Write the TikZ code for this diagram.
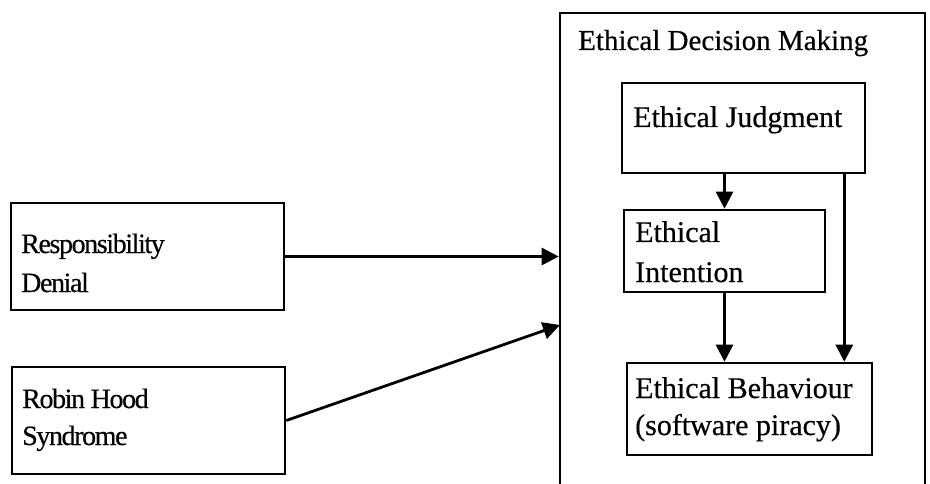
\documentclass[tikz,border=0pt]{standalone}
\usepackage{fontspec}
\setmainfont{Liberation Serif}[FakeBold=0.4]
\newfontfamily\tightfont{Liberation Serif}[LetterSpace=-5.0,FakeBold=0.4]
\usetikzlibrary{arrows.meta,calc}
\begin{document}
\begin{tikzpicture}[x=1pt,y=-1pt,
  box/.style={draw,line width=2.6pt,rectangle,inner sep=0pt},
  lbl/.style={anchor=base west,inner sep=0pt,align=left},
  conn/.style={line width=2.8pt,-{Triangle[length=17pt,width=17pt]}}]
\useasboundingbox (0,0) rectangle (930,484);
\begin{scope}
\clip (0,0) rectangle (930,484);
\node[box,minimum width=365pt,minimum height=487pt] (edm) at (742.5,256.5) {};
\end{scope}
\node[lbl,font=\fontsize{29}{38}\selectfont] (title) at (578,50) {Ethical Decision Making};
% left boxes
\node[box,minimum width=273pt,minimum height=107pt] (rd) at (147.5,256.5) {};
\node[box,minimum width=273pt,minimum height=107pt] (rh) at (148.5,420.5) {};
\node[lbl,font=\tightfont\fontsize{28}{39}\selectfont] (rdt) at (21,292) {Responsibility\\Denial};
\node[lbl,font=\tightfont\fontsize{28}{37}\selectfont] (rht) at (22,445) {Robin Hood\\Syndrome};
% inner boxes
\node[box,minimum width=243pt,minimum height=90pt] (ej) at (743.5,128) {};
\node[box,minimum width=201pt,minimum height=82pt] (ei) at (724.5,251) {};
\node[box,minimum width=245pt,minimum height=92pt] (eb) at (749.5,409) {};
\node[lbl,font=\fontsize{30}{38}\selectfont] (ejt) at (633,127) {Ethical Judgment};
\node[lbl,font=\fontsize{30}{40}\selectfont] (eit) at (635,282) {Ethical\\Intention};
\node[lbl,font=\fontsize{30}{37}\selectfont] (ebt) at (635,435) {Ethical Behaviour\\(software piracy)};
% connectors
\coordinate (rhend) at (560,325);
\coordinate (ejr) at ($(ej.south east)+(-22,0)$);
\draw[conn] (rd.east) -- (rd.east -| edm.west);
\draw[conn] (rh.east) -- (rhend);
\draw[conn] (ej.south -| ei.north) -- (ei.north);
\draw[conn] (ei.south) -- (ei.south |- eb.north);
\draw[conn] (ejr) -- (ejr |- eb.north);
\end{tikzpicture}
\end{document}
